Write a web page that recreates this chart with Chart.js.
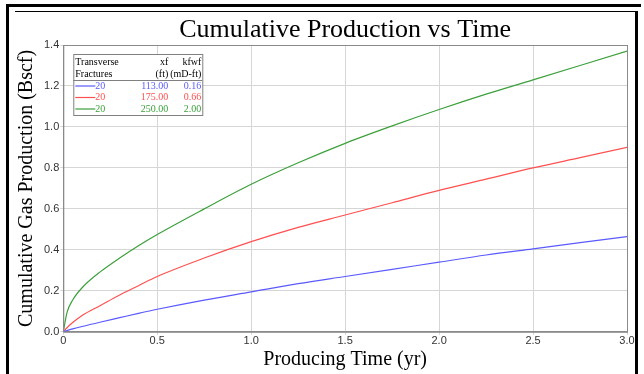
<!DOCTYPE html>
<html>
<head>
<meta charset="utf-8">
<script src="https://cdn.jsdelivr.net/npm/chart.js@4.4.0/dist/chart.umd.min.js"></script>
<style>
  body { margin: 0; background: #fff; }
  #wrap { position: relative; width: 644px; height: 374px; }
  #frameTop { position: absolute; left: 6px; top: 4px; width: 635px; height: 3px; background: #000; }
  #frameLeft { position: absolute; left: 6px; top: 4px; width: 3px; height: 370px; background: #000; }
  #frameInner { position: absolute; left: 15px; top: 11px; width: 620px; height: 1px; background: #000; }
  #frameRight { position: absolute; left: 635px; top: 11px; width: 3px; height: 363px; background: #000; }
  canvas { position: absolute; left: 0; top: 0; }
</style>
</head>
<body>
<div id="wrap">
  <canvas id="cumProd" width="644" height="374"></canvas>
  <div id="frameTop"></div>
  <div id="frameLeft"></div>
  <div id="frameInner"></div>
  <div id="frameRight"></div>
</div>
<script>
// producing time (yr)
var times = [0, 0.02, 0.05, 0.1, 0.2, 0.3, 0.4, 0.5, 0.75, 1.0, 1.25, 1.5, 1.75, 2.0, 2.25, 2.5, 2.75, 3.0];
// cumulative gas (Bscf)
var blueCum  = [0, 0.006, 0.014, 0.026, 0.048, 0.069, 0.09, 0.11, 0.155, 0.195, 0.235, 0.27, 0.305, 0.34, 0.375, 0.405, 0.435, 0.465];
var redCum   = [0, 0.02, 0.045, 0.08, 0.13, 0.18, 0.225, 0.27, 0.36, 0.44, 0.51, 0.57, 0.63, 0.69, 0.745, 0.80, 0.85, 0.90];
var greenCum = [0, 0.095, 0.155, 0.215, 0.295, 0.36, 0.42, 0.475, 0.60, 0.72, 0.825, 0.92, 1.005, 1.085, 1.16, 1.23, 1.30, 1.37];

// legend table
var fractures = ['20', '20', '20'];
var xf = ['113.00', '175.00', '250.00'];
var kfwf = ['0.16', '0.66', '2.00'];
var colors = ['rgb(90,90,255)', 'rgb(255,80,80)', 'rgb(60,160,60)'];

function toPoints(ys) {
    var pts = [];
    for (var i in times) {
        pts.push({x: times[i], y: ys[i]});
    }
    return pts;
}

var seriesList = [blueCum, redCum, greenCum];
var datasets = [];
for (var i in seriesList) {
    datasets.push({
        data: toPoints(seriesList[i]),
        borderColor: colors[i],
        borderWidth: 1.2,
        pointRadius: 0,
        fill: false,
        cubicInterpolationMode: 'monotone'
    });
}

// plot border + legend table
var tablePlugin = {
    id: 'tablePlugin',
    afterDraw: function(chart) {
        var ctx = chart.ctx;
        var a = chart.chartArea;
        ctx.save();
        ctx.strokeStyle = '#8a8a8a';
        ctx.lineWidth = 1;
        ctx.strokeRect(a.left + 0.5, a.top + 0.5, a.right - a.left, a.bottom - a.top);

        var bx = a.left + 10, by = a.top + 9, bw = 129, bh = 61;
        ctx.fillStyle = '#fff';
        ctx.fillRect(bx, by, bw, bh);
        ctx.strokeStyle = '#808080';
        ctx.strokeRect(bx + 0.5, by + 0.5, bw, bh);

        ctx.font = '10px "Liberation Serif"';
        ctx.textBaseline = 'middle';
        ctx.fillStyle = '#000';
        ctx.textAlign = 'left';
        ctx.fillText('Transverse', bx + 2, by + 8);
        ctx.fillText('Fractures', bx + 2, by + 20);
        ctx.textAlign = 'right';
        ctx.fillText('xf', bx + 95, by + 8);
        ctx.fillText('(ft)', bx + 95, by + 20);
        ctx.fillText('kfwf', bx + 128, by + 8);
        ctx.fillText('(mD-ft)', bx + 128, by + 20);

        ctx.strokeStyle = '#808080';
        ctx.beginPath();
        ctx.moveTo(bx, by + 26.5);
        ctx.lineTo(bx + bw, by + 26.5);
        ctx.stroke();

        for (var r = 0; r < fractures.length; r++) {
            var ry = by + 32 + r * 11.5;
            ctx.strokeStyle = colors[r];
            ctx.lineWidth = 1.2;
            ctx.beginPath();
            ctx.moveTo(bx + 2, ry);
            ctx.lineTo(bx + 22, ry);
            ctx.stroke();
            ctx.fillStyle = colors[r];
            ctx.textAlign = 'left';
            ctx.fillText(fractures[r], bx + 22, ry);
            ctx.textAlign = 'right';
            ctx.fillText(xf[r], bx + 95, ry);
            ctx.fillText(kfwf[r], bx + 128, ry);
        }
        ctx.restore();
    }
};

var ctx = document.getElementById('cumProd');

var lineGraph = new Chart(ctx, {
    type: 'line',
    data: { datasets: datasets },
    options: {
        responsive: false,
        animation: false,
        layout: { padding: { left: 15, right: 17, top: 4, bottom: 2 } },
        plugins: {
            legend: { display: false },
            tooltip: { enabled: false },
            title: {
                display: true,
                fullSize: false,
                text: 'Cumulative Production vs Time',
                color: '#000',
                font: { family: '"Liberation Serif"', size: 26, weight: 'normal', lineHeight: 1.0 },
                padding: { top: 13, bottom: 2 }
            }
        },
        scales: {
            x: {
                type: 'linear',
                min: 0,
                max: 3,
                ticks: {
                    stepSize: 0.5,
                    color: '#333',
                    font: { family: '"Liberation Sans"', size: 11 },
                    padding: 0,
                    maxRotation: 0,
                    callback: function(v) { return v === 0 ? '0' : v.toFixed(1); }
                },
                grid: { color: '#d6d6d6', tickLength: 3 },
                border: { color: '#8a8a8a' },
                title: {
                    display: true,
                    text: 'Producing Time (yr)',
                    color: '#000',
                    font: { family: '"Liberation Serif"', size: 20 },
                    padding: { top: 0, bottom: 0 }
                }
            },
            y: {
                min: 0,
                max: 1.4,
                ticks: {
                    stepSize: 0.2,
                    color: '#333',
                    font: { family: '"Liberation Sans"', size: 11 },
                    padding: 1,
                    callback: function(v) { return v.toFixed(1); }
                },
                grid: { color: '#d6d6d6', tickLength: 3 },
                border: { color: '#8a8a8a' },
                title: {
                    display: true,
                    text: 'Cumulative Gas Production (Bscf)',
                    color: '#000',
                    font: { family: '"Liberation Serif"', size: 20 },
                    padding: { top: 0, bottom: 4 }
                }
            }
        }
    },
    plugins: [tablePlugin]
});
</script>
</body>
</html>
